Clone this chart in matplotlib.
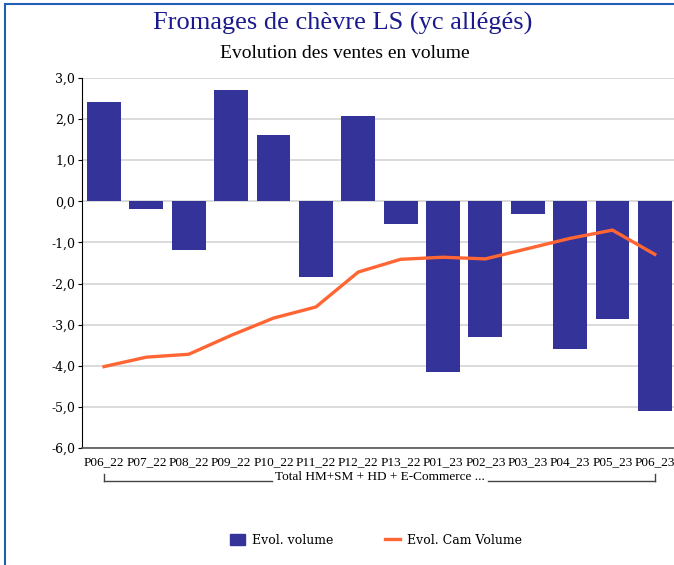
import numpy as np
import matplotlib.pyplot as plt
from matplotlib.patches import Rectangle
from matplotlib.lines import Line2D

# Data
periods = ['P06_22', 'P07_22', 'P08_22', 'P09_22', 'P10_22', 'P11_22', 'P12_22',
           'P13_22', 'P01_23', 'P02_23', 'P03_23', 'P04_23', 'P05_23', 'P06_23']
evol_volume = [2.42, -0.18, -1.18, 2.71, 1.61, -1.83, 2.08,
               -0.54, -4.16, -3.29, -0.32, -3.58, -2.85, -5.11]
evol_cam_volume = [-4.02, -3.79, -3.72, -3.26, -2.84, -2.57, -1.72,
                   -1.41, -1.36, -1.40, -1.15, -0.90, -0.70, -1.29]
yticks = np.arange(-6, 3.5, 1.0)
group_label = 'Total HM+SM + HD + E-Commerce ...'

bar_color = '#333399'
line_color = '#ff6633'
W, H = 674, 565

fig = plt.figure(figsize=(W / 100, H / 100), dpi=100)
fig.patch.set_facecolor('white')

# blue frame (right and bottom edges are cut off in the original)
fig.patches.append(Rectangle((5 / W, -0.1), 1.2, 1 - 4 / H + 0.1, transform=fig.transFigure,
                             fill=False, edgecolor='#1f5fb4', linewidth=1.5))

# axes placed in pixels: left spine x=82, y=3 at 78px, y=-6 at 448px
ax = fig.add_axes([82 / W, (H - 448) / H, (676 - 82) / W, (448 - 78) / H])
x = np.arange(len(periods))
ax.bar(x, evol_volume, width=0.8, color=bar_color, zorder=2)
ax.plot(x, evol_cam_volume, color=line_color, linewidth=2.4, zorder=3,
        solid_joinstyle='miter')

ax.set_xlim(-0.52, 13.5)
ax.set_ylim(-6, 3)
ax.set_yticks(yticks)
ax.set_yticklabels([f'{v:.1f}'.replace('.', ',') for v in yticks],
                   family='DejaVu Serif', fontsize=9)
ax.grid(axis='y', color='#d4d4d4', linewidth=1.2, zorder=0)
ax.set_axisbelow(True)
ax.tick_params(axis='y', length=3, width=0.8, pad=2)
ax.tick_params(axis='x', length=0, pad=6)
ax.set_xticks(x)
ax.set_xticklabels(periods, family='Liberation Serif', fontsize=9.5)
for s in ['top', 'right']:
    ax.spines[s].set_visible(False)
ax.spines['left'].set_color('black')
ax.spines['bottom'].set_color('#555555')
ax.spines['bottom'].set_linewidth(1.2)

# group bracket under the tick labels
def px(xp, yp):
    return (xp / W, 1 - yp / H)

bracket_y = 481
tick_top = 474
segs = [((104, tick_top), (104, bracket_y)), ((104, bracket_y), (272, bracket_y)),
        ((488, bracket_y), (655, bracket_y)), ((655, bracket_y), (655, tick_top))]
for (x0, y0), (x1, y1) in segs:
    p0, p1 = px(x0, y0), px(x1, y1)
    fig.add_artist(Line2D([p0[0], p1[0]], [p0[1], p1[1]], transform=fig.transFigure,
                          color='#444444', linewidth=1))
fig.text(*px(380, 477), group_label, ha='center', va='center',
         family='Liberation Serif', fontsize=9.5)

# titles
fig.text(*px(343, 23), 'Fromages de chèvre LS (yc allégés)', ha='center', va='center',
         family='Liberation Serif', fontsize=19, color='#1a1a8c')
fig.text(*px(345, 53), 'Evolution des ventes en volume', ha='center', va='center',
         family='Liberation Serif', fontsize=14, color='black')

# legend
handles = [Rectangle((0, 0), 1, 1, color=bar_color),
           Line2D([0], [0], color=line_color, linewidth=2.4)]
fig.legend(handles, ['Evol. volume', 'Evol. Cam Volume'], loc='center',
           bbox_to_anchor=px(376, 540), ncol=2, frameon=False,
           prop={'family': 'DejaVu Serif', 'size': 9},
           handlelength=1.2, handleheight=1.0, columnspacing=4.2, handletextpad=0.5)

fig.savefig('out.png', dpi=100)
